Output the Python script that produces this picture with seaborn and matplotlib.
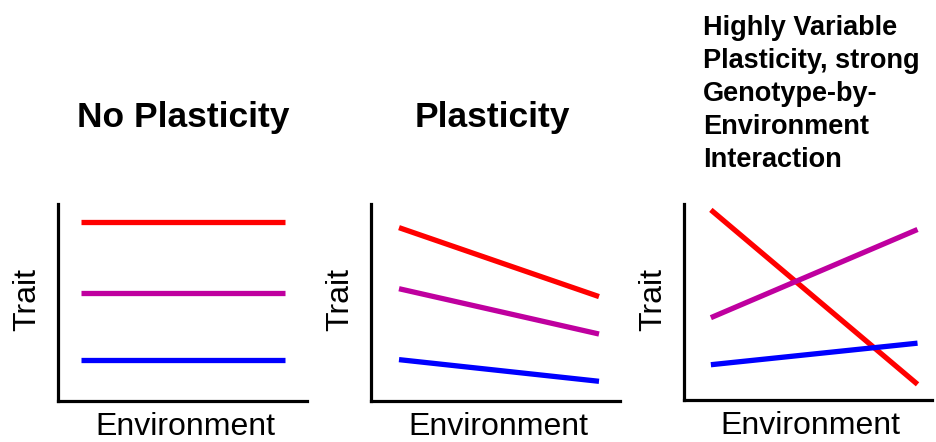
import matplotlib
matplotlib.use("Agg")
import matplotlib.pyplot as plt
import seaborn as sns
import pandas as pd

# ---- data (trait on a 0-10 scale, environment 0 -> 1) ----
panel_titles = ["No Plasticity", "Plasticity",
                "Highly Variable\nPlasticity, strong\nGenotype-by-\nEnvironment\nInteraction"]
genotypes = ["G1", "G2", "G3"]
environment = [0.0, 1.0]

no_plast_red = [9.1, 9.1]
no_plast_magenta = [5.5, 5.5]
no_plast_blue = [2.1, 2.1]

plast_red = [8.8, 5.3]
plast_magenta = [5.7, 3.4]
plast_blue = [2.1, 1.0]

gxe_red = [9.7, 0.8]
gxe_magenta = [4.2, 8.7]
gxe_blue = [1.8, 2.9]

x_label = "Environment"
y_label = "Trait"

colors = {"G1": "#FF0000", "G2": "#BF009F", "G3": "#0000FF"}

rows = []
for p, series in enumerate([
        [no_plast_red, no_plast_magenta, no_plast_blue],
        [plast_red, plast_magenta, plast_blue],
        [gxe_red, gxe_magenta, gxe_blue]]):
    for g, vals in zip(genotypes, series):
        for e, v in zip(environment, vals):
            rows.append({"panel": p, "genotype": g, "env": e, "trait": v})
df = pd.DataFrame(rows)

sns.set_theme(style="white")
plt.rcParams["font.family"] = ["Liberation Sans", "DejaVu Sans"]

fig = plt.figure(figsize=(9.37, 4.42), dpi=100)
W, H = 937.0, 442.0
# axes boxes in pixels: left, right, top, bottom
boxes = [(58, 307, 204, 401), (371, 620, 204, 401), (684, 932, 204, 400)]
xlims = [(-0.113, 1.108), (-0.14, 1.105), (-0.13, 1.07)]

for p, (l, r, t, b) in enumerate(boxes):
    ax = fig.add_axes([l / W, (H - b) / H, (r - l) / W, (b - t) / H])
    sns.lineplot(data=df[df.panel == p], x="env", y="trait", hue="genotype",
                 palette=colors, linewidth=3.8, legend=False, ax=ax,
                 solid_capstyle="butt")
    ax.set_xlim(*xlims[p])
    ax.set_ylim(0, 10)
    ax.set_xticks([])
    ax.set_yticks([])
    for s in ["top", "right"]:
        ax.spines[s].set_visible(False)
    for s in ["left", "bottom"]:
        ax.spines[s].set_color("black")
        ax.spines[s].set_linewidth(2.3)
    ax.set_xlabel(x_label, fontsize=23, color="black")
    ax.set_ylabel(y_label, fontsize=23, color="black")
    ax.xaxis.set_label_coords(0.51, -0.055)
    ax.yaxis.set_label_coords(-0.064, 0.515)
    if p < 2:
        cx = [0.502, 0.486][p]
        ax.text(cx, (b - 127) / (b - t), panel_titles[p], transform=ax.transAxes,
                ha="center", va="baseline", fontsize=25.5, fontweight="bold",
                color="black")
    else:
        ax.text((703 - l) / (r - l), (b - 167) / (b - t), panel_titles[p],
                transform=ax.transAxes, ha="left", va="baseline", fontsize=19.5,
                fontweight="bold", color="black", linespacing=1.35)

fig.savefig("out.png", dpi=100, facecolor="white")
